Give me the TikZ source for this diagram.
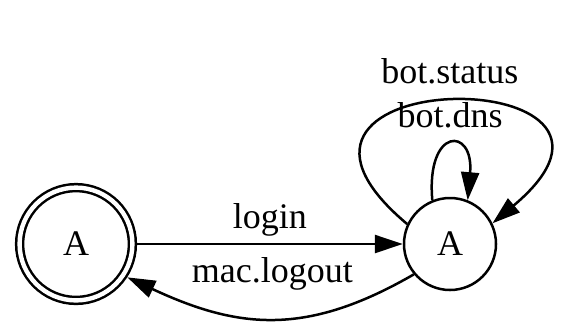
\documentclass[tikz,border=0pt]{standalone}
\usepackage{fontspec}
\setmainfont{Liberation Serif}
\usetikzlibrary{arrows.meta}
\tikzset{
  stnode/.style={circle,draw,minimum size=46pt,inner sep=0pt},
  fnode/.style={circle,draw,double,double distance=2.2pt,minimum size=56.4pt,inner sep=0pt,outer sep=2.4pt},
  lbl/.style={inner sep=1pt},
  tr/.style={-{Triangle[length=14pt,width=9pt]}}
}

\begin{document}
\begin{tikzpicture}[x=0.5pt,y=0.5pt,line width=1.25pt,font=\fontsize{18}{21}\selectfont]
    \useasboundingbox (0,0) rectangle (571,329);
    \node(q0)[fnode] at (76,85) {A};
    \node(q1)[stnode] at (450,85) {A};
    \draw[tr] (q0) -- (q1) node[midway,above=2pt,lbl]{login};
    \draw[tr] (q1.-140) to[out=-150,in=-25,looseness=1.1] node[midway,above=12.5pt,lbl]{mac.logout} (q0.-33);
    \draw[tr] (q1.112) .. controls +(95:74) and +(85:74) .. node[above=7pt,lbl]{bot.dns} (q1.68);
    \draw[tr] (q1.155) .. controls +(140:254) and +(40:254) .. node[above=7pt,lbl]{bot.status} (q1.26);
\end{tikzpicture}
\end{document}
